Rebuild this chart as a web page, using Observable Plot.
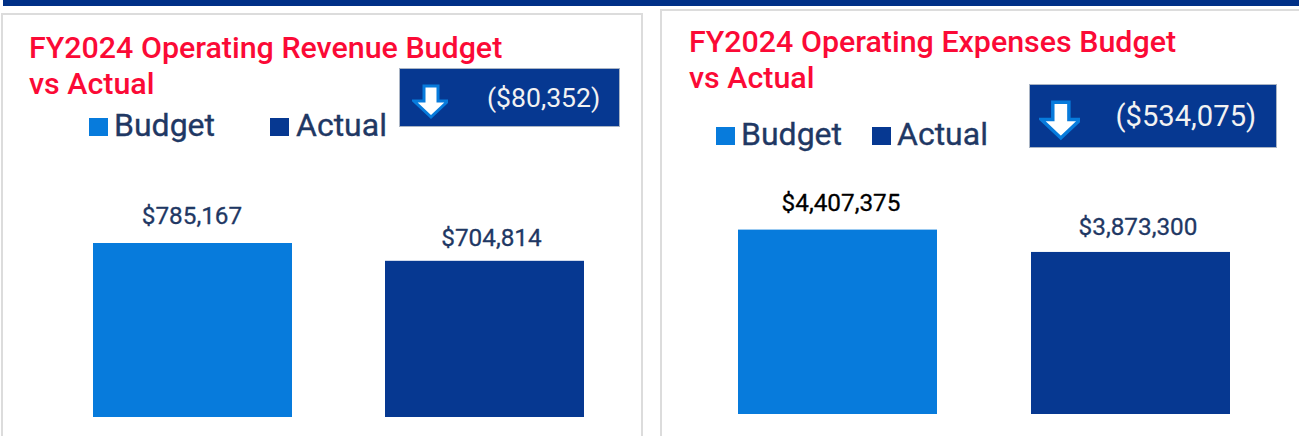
<!DOCTYPE html>
<html><head><meta charset="utf-8">
<script src="https://cdn.jsdelivr.net/npm/d3@7"></script>
<script src="https://cdn.jsdelivr.net/npm/@observablehq/plot@0.6"></script>
<style>
html,body{margin:0;padding:0;background:#fff;width:1299px;height:436px;overflow:hidden;font-family:Roboto,sans-serif}
.abs{position:absolute}
.panel{position:absolute;box-sizing:border-box;border:2px solid #dcdcdc;background:#fff}
.title{position:absolute;color:#fb0a36;font-size:30.4px;font-weight:500;line-height:36px;white-space:nowrap}
.leg{position:absolute;color:#1f3864;font-size:32px;font-weight:400;line-height:36px;white-space:nowrap;-webkit-text-stroke:0.35px #1f3864}
.sw{position:absolute;width:19px;height:18px}
.box{position:absolute;background:#063891;border:1px solid #a9b4c4;box-sizing:border-box;color:#f2f2f2;font-weight:400;white-space:nowrap}
</style></head><body>
<div id="root"></div>
<script>
const categories = ["Budget", "Actual"];
const colors = ["#077bdc", "#063891"];
const revenueValues = [785167, 704814];
const expenseValues = [4407375, 3873300];
const revenueLabels = ["$785,167", "$704,814"];
const expenseLabels = ["$4,407,375", "$3,873,300"];
const revenueTitle = ["FY2024 Operating Revenue Budget", "vs Actual"];
const expenseTitle = ["FY2024 Operating Expenses Budget", "vs Actual"];
const revenueDelta = "($80,352)";
const expenseDelta = "($534,075)";

const root = document.getElementById("root");
function el(cls, css, html){const d=document.createElement("div");d.className=cls;d.style.cssText=css;if(html!=null)d.innerHTML=html;root.appendChild(d);return d;}

el("abs","left:3px;top:0;width:1296px;height:6px;background:#003087");
el("panel","left:1px;top:13px;width:642px;height:440px");
el("panel","left:660px;top:9px;width:660px;height:440px");

function chart(o){
  const rows = categories.map((c,i)=>({c,v:o.values[i],l:o.labels[i]}));
  const p = Plot.plot({
    width:o.w, height:436, margin:0, style:{background:"transparent",fontFamily:"Roboto, sans-serif"},
    x:{domain:categories,range:o.xr,padding:0.32,paddingOuter:0,axis:null},
    y:{domain:[0,o.values[0]],range:o.yr,axis:null},
    color:{domain:categories,range:colors},
    marks:[
      Plot.barY(rows,{x:"c",y:"v",fill:"c"}),
      ...rows.map((r,i)=>Plot.text([r],{x:"c",y:"v",text:"l",dx:o.dx[i],dy:-o.dy[i],fontSize:24.3,fontWeight:400,fill:o.tc[i],stroke:o.tc[i],strokeWidth:0.3}))
    ]
  });
  p.style.position="absolute";p.style.left=o.x+"px";p.style.top="0";
  root.appendChild(p);
}
chart({x:0,w:650,values:revenueValues,labels:revenueLabels,xr:[92.6,583.2],yr:[417,243],dx:[-1,6.5],dy:[27,23.5],tc:["#1f3864","#1f3864"]});
chart({x:650,w:649,values:expenseValues,labels:expenseLabels,xr:[88,581],yr:[414,229.6],dx:[3,7],dy:[27,25],tc:["#000000","#1f3864"]});

el("title","left:29px;top:30px",revenueTitle.join("<br>"));
el("title","left:689px;top:24px",expenseTitle.join("<br>"));

el("sw","left:89px;top:118px;background:"+colors[0]);
el("leg","left:114px;top:107px",categories[0]);
el("sw","left:270px;top:118px;background:"+colors[1]);
el("leg","left:296px;top:107px",categories[1]);
el("sw","left:716px;top:127px;background:"+colors[0]);
el("leg","left:741px;top:116px",categories[0]);
el("sw","left:872px;top:127px;background:"+colors[1]);
el("leg","left:897px;top:116px",categories[1]);

el("box","left:399px;top:68px;width:221px;height:59px;font-size:26.6px;line-height:57px;padding-left:87px",revenueDelta);
el("box","left:1029px;top:84px;width:248px;height:64px;font-size:29.2px;line-height:62px;padding-left:85.5px",expenseDelta);

function arrow(left,top,s){
  const pts="9,1 23,1 23,16 33,16 16,32 -1,16 9,16";
  el("abs",`left:${left}px;top:${top}px;width:${36*s}px;height:${36*s}px`,
   `<svg width="${36*s}" height="${36*s}" viewBox="-3 -1 36 36"><polygon points="${pts}" fill="#fff" stroke="#077bdc" stroke-width="3" stroke-linejoin="miter"/></svg>`);
}
arrow(412,84,1);
arrow(1039,100,1.15);
</script>
</body></html>
